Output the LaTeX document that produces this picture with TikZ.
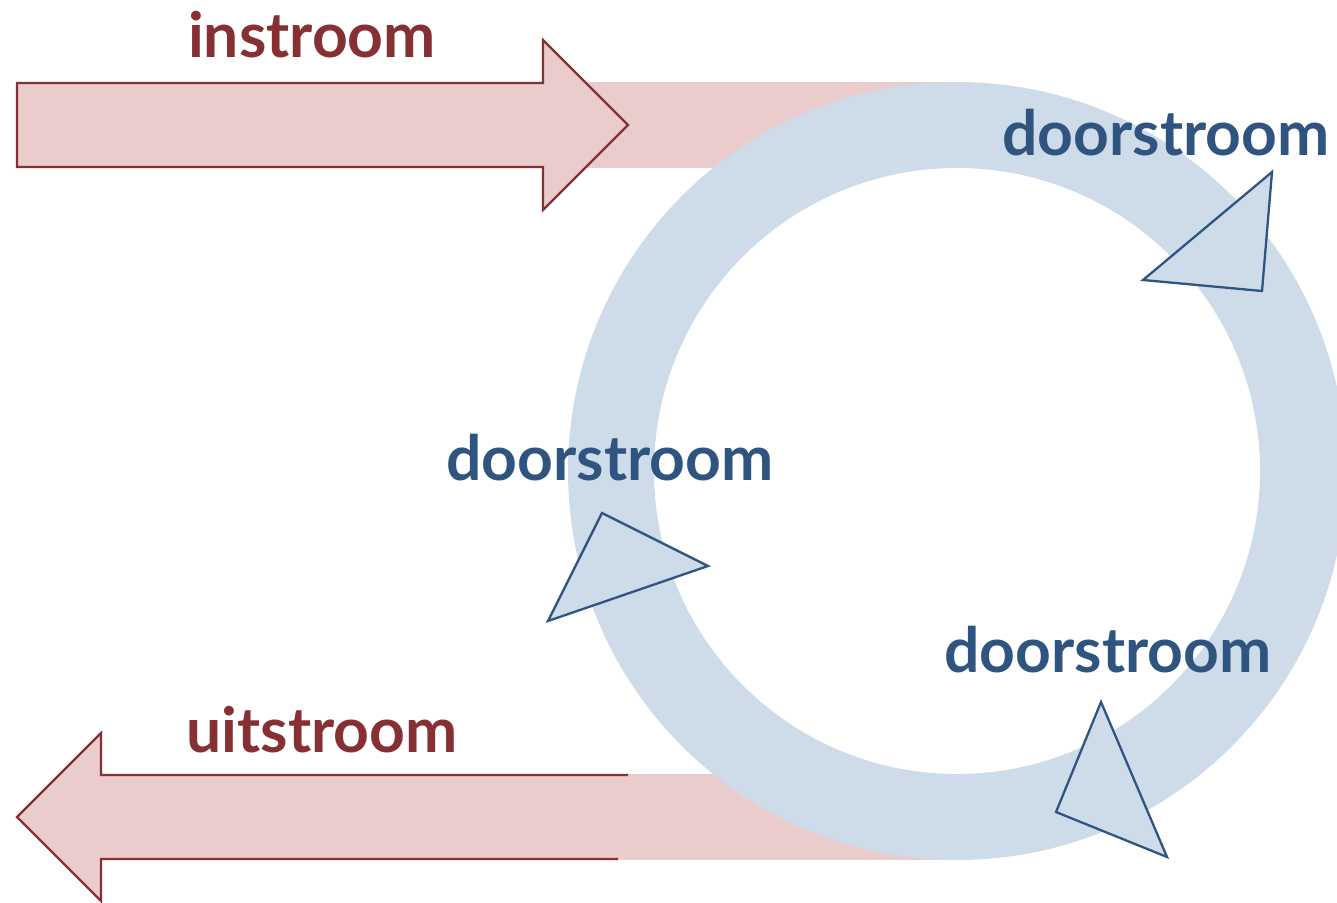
\documentclass[tikz,border=0pt]{standalone}
\usepackage{fontspec}
\setmainfont{Lato}

\definecolor{flowred}{HTML}{873033}
\definecolor{flowpink}{HTML}{EBCCCD}
\definecolor{cycleblue}{HTML}{2F5480}
\definecolor{ringblue}{HTML}{CEDCEA}

\begin{document}
\begin{tikzpicture}[%
        x = 0.02cm,
        y = -0.02cm,
        line join = miter,
        line width = 1.3pt,
        label/.style = {anchor = base, inner sep = 0pt,
            font = \fontsize{35.5}{42}\selectfont\bfseries},
        redlabel/.style = {label, text = flowred},
        bluelabel/.style = {label, text = cycleblue},
        tip/.style = {fill = ringblue, draw = cycleblue}
    ]

        % Fix the page to the size of the picture.
        \useasboundingbox (0, 0) rectangle (1337, 902);

        % Coordinates
        \coordinate (C) at (957, 471);
        \coordinate (in_tip) at (628, 125);
        \coordinate (out_tip) at (17, 817);

        % Pink strips that run into the ring.
        \fill[flowpink] (540, 82) rectangle (957, 168);
        \fill[flowpink] (100, 774) rectangle (957, 860);

        % The ring.
        \fill[ringblue, even odd rule] (C) circle (389) (C) circle (303);

        % Arrow for the inflow.
        \draw[fill = flowpink, draw = flowred]
            (17, 83) -- (543, 83) -- (543, 40) -- (in_tip)
            -- (543, 210) -- (543, 167) -- (17, 167) -- cycle;

        % Arrow for the outflow, open on the right.
        \fill[flowpink] (101, 775) -- (101, 733) -- (out_tip)
            -- (101, 901) -- (101, 859) -- (620, 859) -- (620, 775) -- cycle;
        \draw[flowred] (628, 775) -- (101, 775) -- (101, 733) -- (out_tip)
            -- (101, 901) -- (101, 859) -- (618, 859);

        % Arrow tips on the ring.
        \draw[tip] (1272, 172) -- (1262, 291) -- (1143, 280) -- cycle;
        \draw[tip] (602, 513) -- (708, 566) -- (548, 621) -- cycle;
        \draw[tip] (1101, 702) -- (1167, 857) -- (1056, 812) -- cycle;

        % Labels.
        \node[redlabel] (instroom) at (312, 58) {instroom};
        \node[redlabel] (uitstroom) at (322, 752) {uitstroom};
        \node[bluelabel] (door1) at (1166, 155) {doorstroom};
        \node[bluelabel] (door2) at (610, 480) {doorstroom};
        \node[bluelabel] (door3) at (1108, 672) {doorstroom};
\end{tikzpicture}
\end{document}
